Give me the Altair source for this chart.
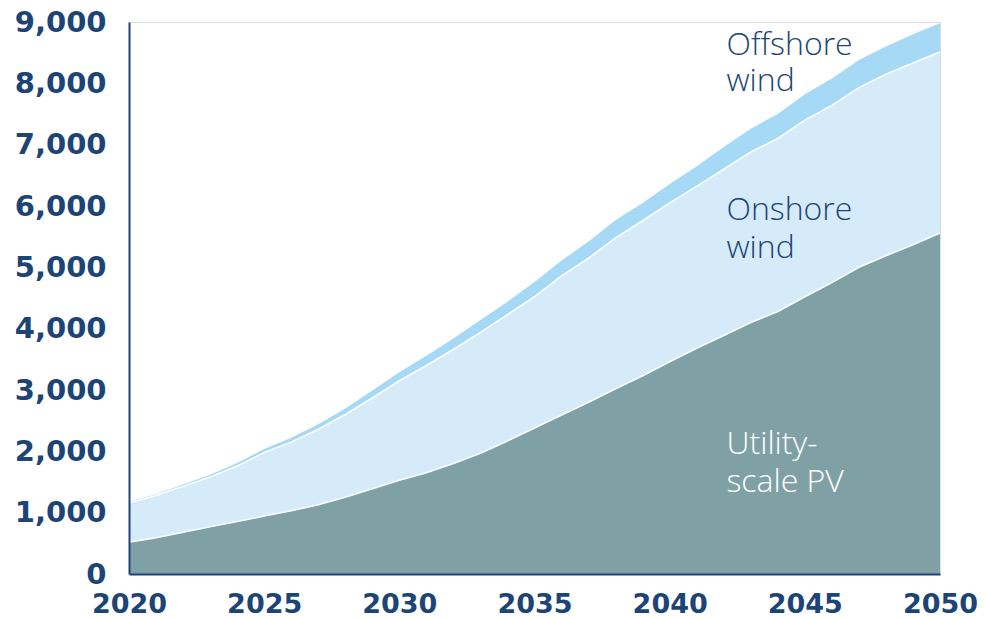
import altair as alt
import pandas as pd

years = list(range(2020, 2051))
utility_pv = [520, 590, 680, 770, 855, 945, 1030, 1130, 1250, 1390, 1530, 1650, 1800, 1970, 2170,
              2380, 2590, 2800, 3020, 3230, 3460, 3680, 3890, 4100, 4280, 4520, 4750, 5000, 5190,
              5370, 5560]
onshore_wind = [640, 690, 750, 810, 905, 1035, 1120, 1230, 1350, 1480, 1620, 1750, 1860, 1970, 2060,
                2140, 2270, 2350, 2460, 2530, 2590, 2640, 2710, 2780, 2820, 2880, 2890, 2930, 2960,
                2960, 2950]
offshore_wind = [20, 20, 30, 40, 50, 60, 70, 80, 100, 120, 140, 160, 180, 200, 210, 240, 250, 270,
                 290, 290, 310, 330, 360, 380, 400, 420, 440, 450, 450, 470, 470]

series_names = ["Utility-scale PV", "Onshore wind", "Offshore wind"]
series_colors = ["#7fa1a6", "#d5ebfa", "#a5d9f6"]

x_ticks = [2020, 2025, 2030, 2035, 2040, 2045, 2050]
y_ticks = [0, 1000, 2000, 3000, 4000, 5000, 6000, 7000, 8000, 9000]

wind_lines = ["Offshore", "wind", "Onshore", "wind"]
wind_year = [2042.1, 2042.1, 2042.1, 2042.1]
wind_value = [8460, 7870, 5770, 5150]
pv_lines = ["Utility-", "scale PV"]
pv_year = [2042.1, 2042.1]
pv_value = [1960, 1340]

NAVY = "#1d4477"

rows = []
for i, yr in enumerate(years):
    lo = 0
    for name, vals in zip(series_names, [utility_pv, onshore_wind, offshore_wind]):
        hi = lo + vals[i]
        rows.append({"year": yr, "series": name, "lo": lo, "hi": hi})
        lo = hi
df = pd.DataFrame(rows)

wind_df = pd.DataFrame({"year": wind_year, "value": wind_value, "text": wind_lines})
pv_df = pd.DataFrame({"year": pv_year, "value": pv_value, "text": pv_lines})

x_enc = alt.X("year:Q", scale=alt.Scale(domain=[2020, 2050], nice=False, zero=False),
              axis=alt.Axis(values=x_ticks, format="d", title=None, grid=False, ticks=False,
                            domainColor=NAVY, domainWidth=2, labelColor=NAVY,
                            labelFont="DejaVu Sans", labelFontWeight="bold", labelFontSize=27,
                            labelPadding=17, labelFlush=False, zindex=1))
y_scale = alt.Scale(domain=[0, 9000], nice=False)
y_axis = alt.Axis(values=y_ticks, format=",.0f", title=None, grid=False, ticks=False,
                  domainColor=NAVY, domainWidth=2, labelColor=NAVY,
                  labelFont="DejaVu Sans", labelFontWeight="bold", labelFontSize=29,
                  labelPadding=23, labelFlush=False, zindex=1)

areas = alt.Chart(df).mark_area(interpolate="linear").encode(
    x=x_enc,
    y=alt.Y("hi:Q", scale=y_scale, axis=y_axis),
    y2="lo:Q",
    color=alt.Color("series:N", scale=alt.Scale(domain=series_names, range=series_colors), legend=None),
)

lines = alt.Chart(df[df["series"] != "Offshore wind"]).mark_line(
    color="white", strokeWidth=1.6
).encode(
    x="year:Q",
    y="hi:Q",
    detail="series:N",
)

wind_text = alt.Chart(wind_df).mark_text(
    align="left", baseline="alphabetic", font="Open Sans", fontSize=32, fontWeight=300, color=NAVY
).encode(x="year:Q", y="value:Q", text="text:N")

pv_text = alt.Chart(pv_df).mark_text(
    align="left", baseline="alphabetic", font="Open Sans", fontSize=32, fontWeight=300, color="#ffffff"
).encode(x="year:Q", y="value:Q", text="text:N")

chart = alt.layer(areas, lines, wind_text, pv_text).properties(
    width=811,
    height=552,
    autosize=alt.AutoSizeParams(type="none"),
    padding={"left": 121, "top": 14, "right": 37, "bottom": 40},
).configure_view(stroke=None).configure(background="white")

chart.save("out.html", embed_options={"renderer": "svg", "actions": False})
